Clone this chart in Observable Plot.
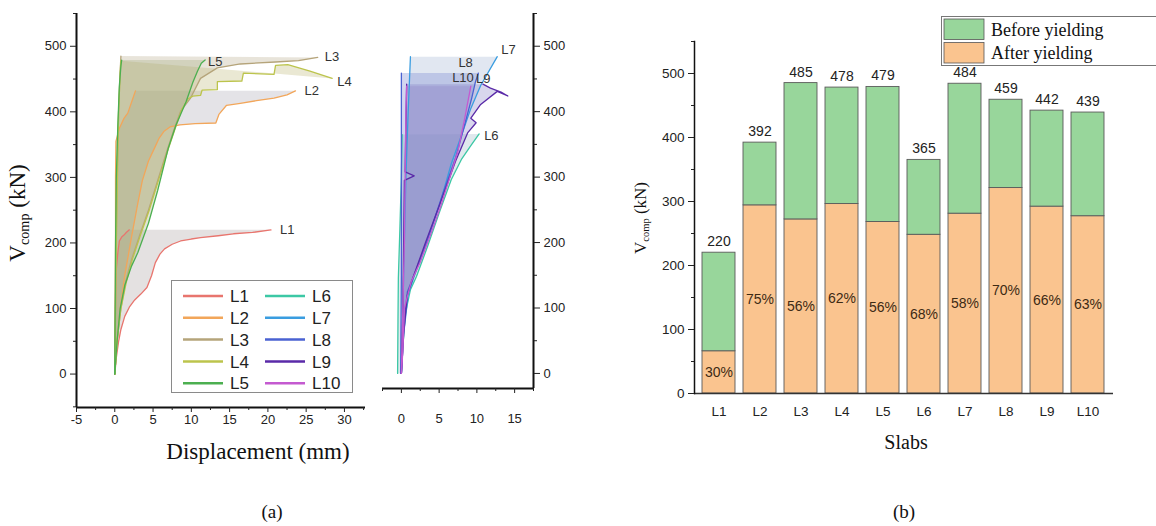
<!DOCTYPE html>
<html><head><meta charset="utf-8">
<script src="https://cdn.jsdelivr.net/npm/d3@7"></script>
<script src="https://cdn.jsdelivr.net/npm/@observablehq/plot@0.6"></script>
<style>
body{margin:0;background:#fff}
#root{position:relative;width:1156px;height:526px;overflow:hidden;background:#fff}
.abs{position:absolute}
.serif{font-family:"Liberation Serif","Times New Roman",serif;color:#111}
.rot{transform:translate(-50%,-50%) rotate(-90deg);white-space:nowrap}
.ctr{transform:translate(-50%,-50%);white-space:nowrap}
sub{font-size:62%;vertical-align:-0.3em}
svg{overflow:visible}
</style></head><body><div id="root"></div>
<script>
// ---------- data ----------
const slabs = ["L1","L2","L3","L4","L5","L6","L7","L8","L9","L10"];
const totals = [220,392,485,478,479,365,484,459,442,439];
const afterYield = [66,294,272,296,268,248,281,321,292,277];
const afterPct = [30,75,56,62,56,68,58,70,66,63];

// load–displacement curves: [displacement (mm), V (kN)]
const L1_inner = [[0,0],[0.05,60],[0.1,120],[0.2,160],[0.4,185],[0.6,203],[0.9,209],[1.2,212],[1.5,216],[1.9,220]];
const L1_outer = [[0,0],[0.2,25],[0.5,50],[0.8,68],[1.3,88],[1.9,102],[2.6,113],[3.4,122],[4.2,132],[4.8,150],[5.3,170],[5.9,183],[6.5,191],[7.5,198],[8.6,203],[10,206],[11.2,208],[13.5,211],[15.5,214],[18,216],[20.4,220]];
const L2_inner = [[0,0],[0.05,100],[0.1,200],[0.1,300],[0.15,355],[0.6,375],[1.2,390],[1.7,398],[2.2,415],[2.7,432]];
const L2_outer = [[0,0],[0.3,50],[0.7,100],[1.3,150],[2.2,210],[3.0,260],[3.6,295],[4.4,325],[5.2,345],[5.8,360],[6.4,370],[7.2,377],[8.5,380],[10.5,382],[13.2,383],[13.6,396],[14.6,410],[16.4,413],[18.5,417],[20.8,421],[22.5,426],[23.6,432]];
const L3_inner = [[0,0],[0.1,100],[0.2,200],[0.3,300],[0.5,400],[0.7,460],[0.8,485]];
const L3_outer = [[0,0],[0.3,50],[0.8,100],[1.4,140],[2.2,175],[3.2,210],[4.4,250],[5.6,295],[6.8,340],[7.8,375],[8.6,401],[9.9,421],[11.2,451],[13.4,467],[16.4,473],[21,476],[24,478],[26.5,483]];
const L4_inner = [[0,0],[0.1,100],[0.2,200],[0.35,300],[0.5,400],[0.7,460],[0.8,478]];
const L4_outer = [[0,0],[0.3,50],[0.8,100],[1.5,140],[2.3,175],[3.3,210],[4.5,250],[5.7,295],[6.9,340],[7.9,375],[8.8,405],[9.6,420],[10.2,424],[11.2,425],[11.4,433],[13.4,434],[13.4,446],[16.6,447],[16.8,459],[20.8,457],[21.0,471],[22.6,472],[25.5,462],[28.4,451]];
const L5_inner = [[0,0],[0.05,100],[0.1,200],[0.2,300],[0.4,380],[0.6,440],[0.8,470],[0.9,479]];
const L5_outer = [[0,0],[0.3,50],[0.7,100],[1.3,135],[2.2,165],[3.0,185],[4.4,230],[5.6,280],[7.0,345],[8.0,380],[9.3,415],[10.2,445],[10.8,462],[11.3,474],[11.8,479]];
const L6_inner = [[-0.5,0],[-0.45,80],[-0.4,146],[-0.2,220],[0,300],[0.1,365]];
const L6_outer = [[0,0],[0.2,40],[0.5,90],[1.2,128],[2.0,148],[3.5,195],[5.0,245],[6.6,296],[8.0,328],[9.2,348],[10.3,366]];
const L7_inner = [[0,0],[0.2,100],[0.4,200],[0.6,300],[0.9,400],[1.2,484]];
const L7_outer = [[0,0],[0.3,60],[0.9,120],[1.6,145],[3,190],[5,255],[6.6,320],[8,365],[9.2,405],[10.5,440],[12.7,484]];
const L8_inner = [[-0.1,0],[0,150],[0,300],[0,459]];
const L8_outer = [[0,0],[0.2,60],[0.8,125],[1.6,148],[3.5,205],[5.5,275],[7.2,330],[8.5,385],[9.3,420],[9.8,445],[10.2,459]];
const L9_inner = [[0,0],[0.2,100],[0.3,200],[0.4,295],[1.7,302],[0.5,308],[0.6,380],[0.7,442]];
const L9_outer = [[0,0],[0.3,60],[0.8,120],[1.5,145],[3.2,200],[5.3,265],[7.2,325],[8.8,368],[9.9,383],[9.2,390],[10.5,411],[12.7,431],[14.1,424],[13.2,430],[11.8,436],[10.8,442]];
const L10_inner = [[0,0],[0.2,100],[0.4,200],[0.5,300],[0.6,400],[0.7,439]];
const L10_outer = [[0,0],[0.2,35],[0.4,100],[1.3,140],[2.5,170],[3.9,213],[5.2,255],[6.3,295],[7.5,340],[8.4,390],[9.2,439]];

const curves = {
  L1:{inner:L1_inner,outer:L1_outer}, L2:{inner:L2_inner,outer:L2_outer},
  L3:{inner:L3_inner,outer:L3_outer}, L4:{inner:L4_inner,outer:L4_outer},
  L5:{inner:L5_inner,outer:L5_outer}, L6:{inner:L6_inner,outer:L6_outer},
  L7:{inner:L7_inner,outer:L7_outer}, L8:{inner:L8_inner,outer:L8_outer},
  L9:{inner:L9_inner,outer:L9_outer}, L10:{inner:L10_inner,outer:L10_outer}
};

// ---------- styles ----------
const colors = {L1:"#e8756e",L2:"#f2a65a",L3:"#b5a47a",L4:"#bcc44c",L5:"#4caf50",
                L6:"#3cc8a5",L7:"#3a9de0",L8:"#4a62d2",L9:"#5a2aa8",L10:"#c45ad0"};
const fillColors = {L1:"#a49a9a",L2:"#a4a2b0",L3:"#b4a684",L4:"#bab46e",L5:"#9eaa7c",
                    L6:"#98b4c4",L7:"#9aaed0",L8:"#6a7ccc",L9:"#7e78c4",L10:"#9288c8"};
const labelOff = {L1:{dx:9,dy:0,a:"start"},L2:{dx:9,dy:0,a:"start"},L3:{dx:7,dy:-1,a:"start"},
  L4:{dx:5,dy:3,a:"start"},L5:{dx:3,dy:2,a:"start"},L6:{dx:5,dy:2,a:"start"},
  L7:{dx:4,dy:-7,a:"start"},L8:{dx:-20,dy:-10,a:"start"},L9:{dx:-7,dy:-5,a:"start"},L10:{dx:3,dy:-8,a:"end"}};
const sans = "'Liberation Sans', Arial, sans-serif";
const pts = arr => arr.map(([x,v]) => ({x, v}));

function curveMarks(list) {
  const m = [];
  for (const s of list) {
    const c = curves[s];
    const poly = pts([...c.inner, ...c.outer.slice().reverse()]);
    m.push(Plot.line(poly, {x:"x", y:"v", fill: fillColors[s], fillOpacity: 0.3, stroke: "none"}));
  }
  for (const s of list) {
    m.push(Plot.line(pts(curves[s].inner), {x:"x", y:"v", stroke: colors[s], strokeWidth: 1.3}));
    m.push(Plot.line(pts(curves[s].outer), {x:"x", y:"v", stroke: colors[s], strokeWidth: 1.3}));
  }
  for (const s of list) {
    const o = curves[s].outer, last = o[o.length-1], L = labelOff[s];
    m.push(Plot.text([{x:last[0], v:last[1]}], {x:"x", y:"v", text: () => s, dx: L.dx, dy: L.dy,
      textAnchor: L.a, fontSize: 13, fill: "#333"}));
  }
  return m;
}

const root = document.getElementById("root");
function place(el, left, top) {
  const d = document.createElement("div");
  d.className = "abs"; d.style.left = left + "px"; d.style.top = top + "px";
  d.appendChild(el); root.appendChild(d); return d;
}
function html(str, left, top, cls, size) {
  const d = document.createElement("div");
  d.className = "abs serif " + cls; d.style.left = left + "px"; d.style.top = top + "px";
  d.style.fontSize = size + "px"; d.innerHTML = str; root.appendChild(d); return d;
}

// ---------- panel (a) left ----------
const xMinA = -5, yMinA = -51;
const plotA = Plot.plot({
  width: 380, height: 470, marginLeft: 76, marginRight: 15, marginTop: 13, marginBottom: 63,
  x: {domain: [xMinA, 32.75]}, y: {domain: [yMinA, 550]},
  style: {fontFamily: sans, fontSize: "13px", color: "#222", background: "transparent"},
  marks: [
    ...curveMarks(["L1","L2","L3","L4","L5"]),
    Plot.ruleX([xMinA], {stroke: "#111", strokeWidth: 2}),
    Plot.ruleY([yMinA], {stroke: "#111", strokeWidth: 2}),
    Plot.axisY({ticks: d3.range(0, 501, 100), tickSize: 6, tickPadding: 4, label: null, tickFormat: d => String(d)}),
    Plot.axisY({ticks: [-50,50,150,250,350,450,550], tickSize: 3, tickFormat: () => "", label: null}),
    Plot.axisX({ticks: d3.range(-5, 31, 5), tickSize: 5, tickPadding: 2, label: null, tickFormat: d => String(d)}),
    Plot.axisX({ticks: d3.range(-2.5, 33, 5), tickSize: 3, tickFormat: () => "", label: null})
  ]
});
place(plotA, 0, 0);

// ---------- panel (a) right ----------
const xMaxM = 17.5, yMinM = -23;
const plotM = Plot.plot({
  width: 200, height: 420, marginLeft: 12, marginRight: 37, marginTop: 13, marginBottom: 32,
  x: {domain: [-2.5, xMaxM]}, y: {domain: [yMinM, 550]},
  style: {fontFamily: sans, fontSize: "13px", color: "#222", background: "transparent"},
  marks: [
    ...curveMarks(["L6","L7","L8","L9","L10"]),
    Plot.ruleX([xMaxM], {stroke: "#111", strokeWidth: 2}),
    Plot.ruleY([yMinM], {stroke: "#111", strokeWidth: 2}),
    Plot.axisY({anchor: "right", ticks: d3.range(0, 501, 100), tickSize: 6, tickPadding: 4, label: null}),
    Plot.axisY({anchor: "right", ticks: [50,150,250,350,450,550], tickSize: 3, tickFormat: () => "", label: null}),
    Plot.axisX({ticks: d3.range(0, 16, 5), tickSize: 5, tickPadding: 20, label: null}),
    Plot.axisX({ticks: d3.range(-2.5, 18, 5), tickSize: 3, tickFormat: () => "", label: null})
  ]
});
place(plotM, 370, 0);

// legend for (a)
const lg = d3.create("svg").attr("width", 182).attr("height", 114);
lg.append("rect").attr("x", 0.5).attr("y", 0.5).attr("width", 181).attr("height", 112)
  .attr("fill", "#fff").attr("stroke", "#8a8a8a");
slabs.forEach((s, i) => {
  const col = i < 5 ? 0 : 1, row = i % 5;
  const x0 = 12 + col * 82, y0 = 16 + row * 21.8;
  lg.append("line").attr("x1", x0).attr("x2", x0 + 40).attr("y1", y0).attr("y2", y0)
    .attr("stroke", colors[s]).attr("stroke-width", 2.5);
  lg.append("text").attr("x", x0 + 47).attr("y", y0).attr("dy", "0.36em")
    .attr("font-family", sans).attr("font-size", 17).attr("fill", "#222").text(s);
});
place(lg.node(), 171, 280);

// ---------- panel (b) ----------
const rows = slabs.map((s, i) => ({slab: s, total: totals[i], after: afterYield[i], pct: afterPct[i]}));
const plotB = Plot.plot({
  width: 556, height: 470, marginLeft: 94, marginRight: 43, marginTop: 41, marginBottom: 77,
  x: {domain: slabs, paddingInner: 0.19, paddingOuter: 0.1},
  y: {domain: [0, 550]},
  style: {fontFamily: sans, fontSize: "13.5px", color: "#222", background: "transparent"},
  marks: [
    Plot.barY(rows, {x: "slab", y1: 0, y2: "after", fill: "#fac48f", stroke: "#5a5a5a", strokeWidth: 0.9}),
    Plot.barY(rows, {x: "slab", y1: "after", y2: "total", fill: "#98d69b", stroke: "#5a5a5a", strokeWidth: 0.9}),
    Plot.text(rows, {x: "slab", y: "total", text: d => String(d.total), dy: -11, fontSize: 14, fill: "#222"}),
    Plot.text(rows, {x: "slab", y: d => d.after / 2, text: d => d.pct + "%", fontSize: 14, fill: "#3d2a14"}),
    Plot.ruleY([0], {stroke: "#333", strokeWidth: 1.5}),
    Plot.frame({anchor: "left", stroke: "#111", strokeWidth: 1.5}),
    Plot.axisY({ticks: d3.range(0, 501, 100), tickSize: 6, tickPadding: 4, label: null}),
    Plot.axisY({ticks: [50,150,250,350,450,550], tickSize: 3, tickFormat: () => "", label: null}),
    Plot.axisX({tickSize: 0, tickPadding: 13, label: null})
  ]
});
place(plotB, 600, 0);

// legend for (b)
const lb = d3.create("svg").attr("width", 230).attr("height", 52);
lb.append("rect").attr("x", 0.5).attr("y", 0.5).attr("width", 240).attr("height", 49)
  .attr("fill", "#fff").attr("stroke", "#777");
[["Before yielding", "#98d69b"], ["After yielding", "#fac48f"]].forEach(([t, c], i) => {
  lb.append("rect").attr("x", 3).attr("y", 3 + i * 23.5).attr("width", 40).attr("height", 20.5)
    .attr("fill", c).attr("stroke", "#555").attr("stroke-width", 0.8);
  lb.append("text").attr("x", 50).attr("y", 13.5 + i * 23.5).attr("dy", "0.35em")
    .attr("font-family", "'Liberation Serif', 'Times New Roman', serif").attr("font-size", 18)
    .attr("fill", "#111").text(t);
});
place(lb.node(), 941, 16);

// ---------- titles ----------
html("V<sub>comp</sub> (kN)", 19, 213, "rot", 23);
html("Displacement (mm)", 258, 452, "ctr", 23);
html("V<sub>comp</sub> (kN)", 641, 218, "rot", 17);
html("Slabs", 906, 442, "ctr", 20);
html("(a)", 272, 512, "ctr", 19);
html("(b)", 904, 512, "ctr", 19);
</script></body></html>
